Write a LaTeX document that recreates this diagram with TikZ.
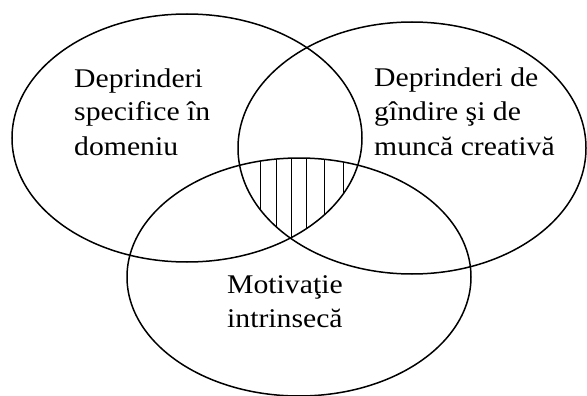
\documentclass[tikz,border=0pt]{standalone}
\usepackage{fontspec}
\setmainfont[FakeStretch=1.1]{Liberation Serif}
\begin{document}
\begin{tikzpicture}[x=1pt,y=-1pt,
  ring/.style={line width=1.5pt},
  hatch/.style={line width=0.7pt},
  lbl/.style={anchor=base west,inner sep=0pt,font=\fontsize{27}{34}\selectfont}]
\useasboundingbox (0,0) rectangle (587,396);
% hatching of the common region
\begin{scope}
  \clip (187,138) ellipse [x radius=175,y radius=124];
  \clip (412,148) ellipse [x radius=174,y radius=126];
  \clip (299,277) ellipse [x radius=172,y radius=119];
  \foreach \hx in {260,276,291,306,324,343}
    \draw[hatch] (\hx,150) -- (\hx,250);
\end{scope}
% the three ellipses
\draw[ring] (187,138) ellipse [x radius=175,y radius=124];
\draw[ring] (412,148) ellipse [x radius=174,y radius=126];
\draw[ring] (299,277) ellipse [x radius=172,y radius=119];
% labels
\node[lbl] (a1) at (74,88) {Deprinderi};
\node[lbl] (a2) at (74,121) {specifice în};
\node[lbl] (a3) at (74,155) {domeniu};
\node[lbl] (b1) at (374,87) {Deprinderi de};
\node[lbl] (b2) at (374,121) {gîndire şi de};
\node[lbl] (b3) at (374,155) {muncă creativă};
\node[lbl] (c1) at (227,293) {Motivaţie};
\node[lbl] (c2) at (227,327) {intrinsecă};
\end{tikzpicture}
\end{document}
